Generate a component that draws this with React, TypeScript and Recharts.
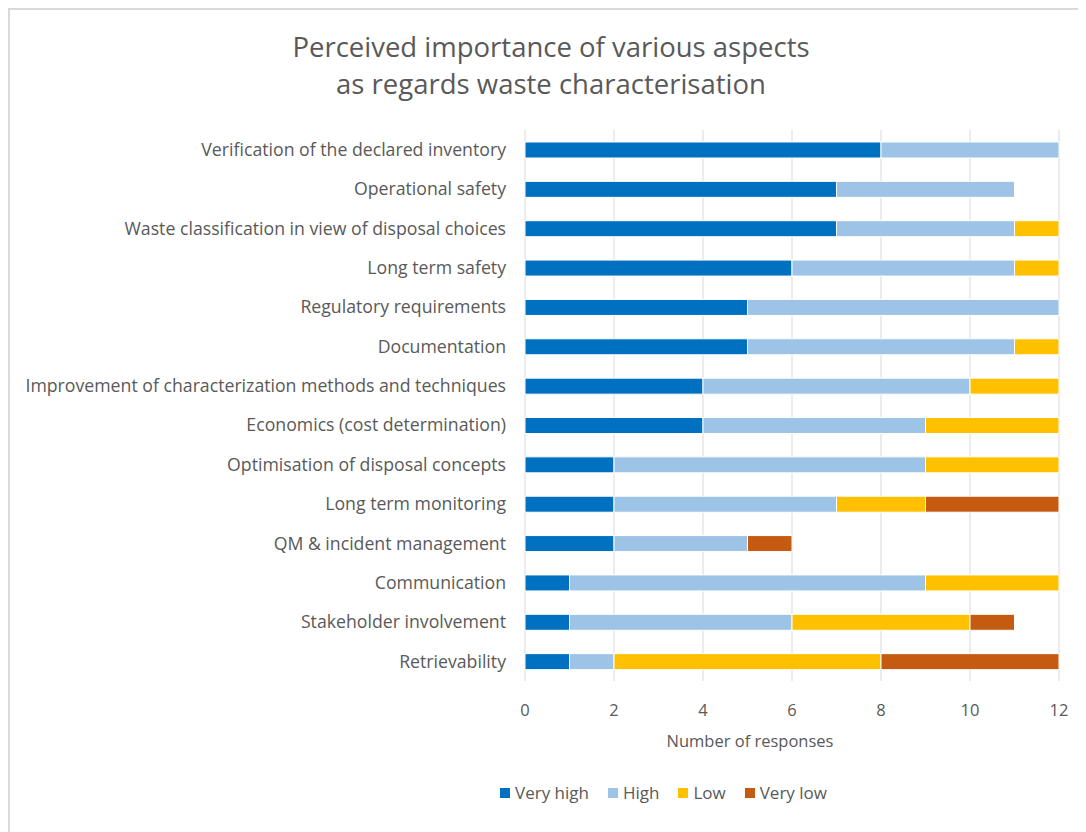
import React from 'react';
import { BarChart, Bar, XAxis, YAxis, CartesianGrid, Legend, Label } from 'recharts';

const categories = [
  'Verification of the declared inventory',
  'Operational safety',
  'Waste classification in view of disposal choices',
  'Long term safety',
  'Regulatory requirements',
  'Documentation',
  'Improvement of characterization methods and techniques',
  'Economics (cost determination)',
  'Optimisation of disposal concepts',
  'Long term monitoring',
  'QM & incident management',
  'Communication',
  'Stakeholder involvement',
  'Retrievability',
];

const veryHigh = [8, 7, 7, 6, 5, 5, 4, 4, 2, 2, 2, 1, 1, 1];
const high = [4, 4, 4, 5, 7, 6, 6, 5, 7, 5, 3, 8, 5, 1];
const low = [0, 0, 1, 1, 0, 1, 2, 3, 3, 2, 0, 3, 4, 6];
const veryLow = [0, 0, 0, 0, 0, 0, 0, 0, 0, 3, 1, 0, 1, 4];

const xTicks = [0, 2, 4, 6, 8, 10, 12];

const series = [
  { key: 'veryHigh', name: 'Very high', color: '#0070C0' },
  { key: 'high', name: 'High', color: '#9DC3E6' },
  { key: 'low', name: 'Low', color: '#FFC000' },
  { key: 'veryLow', name: 'Very low', color: '#C55A11' },
];

const data = categories.map((name, i) => ({
  name,
  veryHigh: veryHigh[i],
  high: high[i],
  low: low[i],
  veryLow: veryLow[i],
}));

const FONT = '"Open Sans", "Noto Sans", sans-serif';
const TEXT = '#595959';

// keep series order (Very high → Very low) instead of Recharts' alphabetical sort
const renderLegend = () => (
  <div style={{ display: 'flex', alignItems: 'center', fontFamily: FONT, fontSize: 17, color: TEXT }}>
    {series.map((s) => (
      <div key={s.key} style={{ display: 'flex', alignItems: 'center', marginRight: 19 }}>
        <span style={{ display: 'inline-block', width: 10, height: 10, background: s.color, marginRight: 5 }} />
        <span>{s.name}</span>
      </div>
    ))}
  </div>
);

const renderAxisTitle = (props: any) => {
  const { viewBox } = props;
  const cx = viewBox.x + viewBox.width / 2 - 42;
  return (
    <text x={cx} y={viewBox.y + 66} textAnchor="middle" fill={TEXT} fontSize={16.5} fontFamily={FONT}>
      Number of responses
    </text>
  );
};

export default function App() {
  return (
    <div
      style={{
        position: 'relative',
        width: 1076,
        height: 822,
        borderTop: '2px solid #d9d9d9',
        borderLeft: '2px solid #d9d9d9',
        overflow: 'hidden',
        background: '#fff',
      }}
    >
      <div
        style={{
          position: 'absolute',
          left: 0,
          top: 18,
          width: 1082,
          textAlign: 'center',
          fontFamily: FONT,
          fontSize: 27.5,
          lineHeight: '37px',
          color: TEXT,
        }}
      >
        Perceived importance of various aspects
        <br />
        as regards waste characterisation
      </div>
      <BarChart
        width={1076}
        height={822}
        data={data}
        layout="vertical"
        margin={{ top: 120, right: 27, left: 15, bottom: 65 }}
      >
        <CartesianGrid horizontal={false} stroke="#d9d9d9" />
        <XAxis
          type="number"
          domain={[0, 12]}
          ticks={xTicks}
          axisLine={false}
          tickLine={false}
          tickMargin={17}
          height={62}
          tick={{ fill: TEXT, fontSize: 16.5, fontFamily: FONT }}
        >
          <Label content={renderAxisTitle} />
        </XAxis>
        <YAxis
          type="category"
          dataKey="name"
          width={500}
          axisLine={false}
          tickLine={false}
          tickMargin={13}
          interval={0}
          tick={{ fill: TEXT, fontSize: 17.7, fontFamily: FONT }}
        />
        <Legend
          content={renderLegend}
          wrapperStyle={{ top: 771, left: 490, width: 'auto', height: 24 }}
        />
        {series.map((s) => (
          <Bar
            key={s.key}
            dataKey={s.key}
            name={s.name}
            stackId="a"
            fill={s.color}
            stroke="#ffffff"
            strokeWidth={1}
            barSize={16}
            isAnimationActive={false}
          />
        ))}
      </BarChart>
    </div>
  );
}
